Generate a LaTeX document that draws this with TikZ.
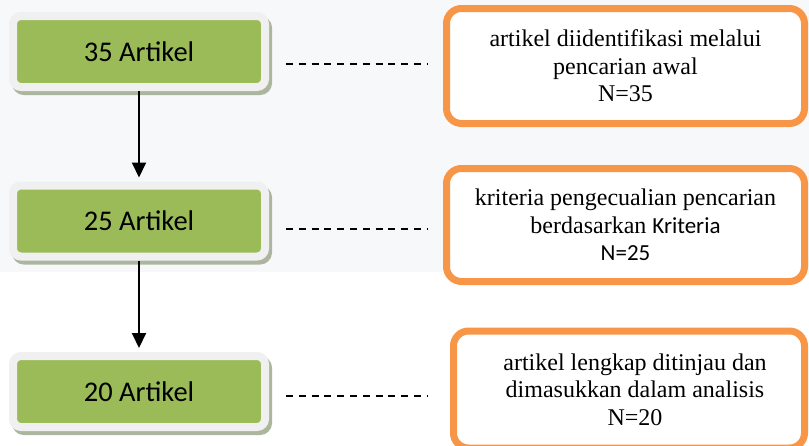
\documentclass[tikz,border=0pt]{standalone}
\usepackage{fontspec}
\setmainfont{Liberation Serif}
\newfontfamily\calibri{Carlito}
\usetikzlibrary{arrows.meta}

\definecolor{panelgray}{RGB}{247,248,250}
\definecolor{framegray}{RGB}{240,240,240}
\definecolor{shadowgreen}{RGB}{172,182,158}
\definecolor{leafgreen}{RGB}{155,187,89}
\definecolor{accentorange}{RGB}{247,150,70}

\tikzset{
  countbox/.style={
    draw=framegray, line width=8pt, fill=leafgreen, rounded corners=8pt,
    minimum width=252pt, minimum height=71pt, inner sep=0pt,
    font=\calibri\fontsize{28.5}{34}\selectfont,
    preaction={draw=shadowgreen, fill=shadowgreen, line width=8pt,
      transform canvas={shift={(3pt,-4pt)}}}},
  notebox/.style={
    draw=accentorange, line width=7pt, fill=white, rounded corners=15pt,
    inner sep=0pt, align=center, font=\fontsize{24}{27.5}\selectfont},
  flowarrow/.style={draw=black, line width=2pt, -{Triangle[length=15pt,width=14pt]}},
  dashline/.style={draw=black, line width=2.2pt, dash pattern=on 7pt off 5.8pt}
}

\begin{document}
\begin{tikzpicture}[x=1pt, y=-1pt]
  \useasboundingbox (0,0) rectangle (809,445);
  \clip (0,0) rectangle (809,445);
  \fill[white] (0,0) rectangle (809,445);
  \fill[panelgray] (0,0) rectangle (809,272);

  % left column: article counts
  \node[countbox] (g1) at (139,51.5) {35 Artikel};
  \node[countbox] (g2) at (139,221) {25 Artikel};
  \node[countbox] (g3) at (139,391.5) {20 Artikel};

  % right column: descriptions
  \node[notebox, minimum width=358pt, minimum height=115pt] (o1) at (625.5,66)
    {artikel diidentifikasi melalui\\ pencarian awal\\ N=35};
  \node[notebox, minimum width=358pt, minimum height=113pt] (o2) at (625.5,225)
    {kriteria pengecualian pencarian\\ berdasarkan {\calibri\fontsize{23}{27.5}\selectfont Kriteria}\\ {\calibri\fontsize{23}{27.5}\selectfont N=25}};
  \node[notebox, minimum width=351pt, minimum height=117pt] (o3) at (629,389.5)
    {\hspace*{12pt}artikel lengkap ditinjau dan\\ \hspace*{12pt}dimasukkan dalam analisis\\ \hspace*{12pt}N=20};

  % flow between counts
  \draw[flowarrow] (g1.south) -- ([yshift=4pt]g2.north);
  \draw[flowarrow] (g2.south) -- ([yshift=4pt]g3.north);

  % links from counts to descriptions
  \draw[dashline] ([xshift=17pt]g1.east |- 0,64) -- ([xshift=-15pt]o1.west |- 0,64);
  \draw[dashline] ([xshift=17pt]g2.east |- 0,229) -- ([xshift=-15pt]o2.west |- 0,229);
  \draw[dashline] ([xshift=17pt]g3.east |- 0,396) -- ([xshift=-22pt]o3.west |- 0,396);
\end{tikzpicture}
\end{document}
